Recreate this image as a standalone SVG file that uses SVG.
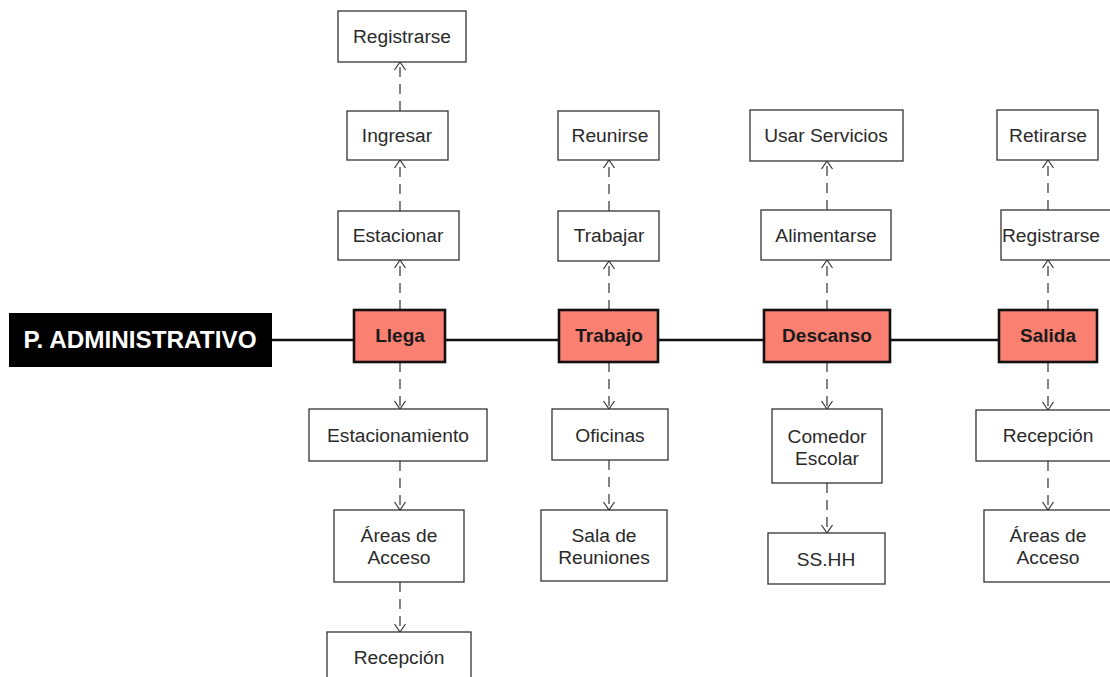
<svg xmlns="http://www.w3.org/2000/svg" width="1110" height="677" viewBox="0 0 1110 677">
  <defs>
    <marker id="open" viewBox="-10 -7 12 14" markerWidth="12" markerHeight="14" refX="0" refY="0" orient="auto" markerUnits="userSpaceOnUse">
      <path d="M -8,-5.5 L 0,0 L -8,5.5" fill="none" stroke="#333" stroke-width="1.2"/>
    </marker>
    <style>
      .box { fill: #fff; stroke: #333; stroke-width: 1.3; }
      .main { fill: #fa8072; stroke: #111; stroke-width: 2.6; }
      .lbl { font-family: "Liberation Sans", Arial, sans-serif; font-size: 19.2px; fill: #2a2a2a; text-anchor: middle; }
      .mlbl { font-family: "Liberation Sans", Arial, sans-serif; font-size: 19px; font-weight: bold; fill: #1a1a1a; text-anchor: middle; }
      .dash { fill: none; stroke: #333; stroke-width: 1.2; stroke-dasharray: 10 7; marker-end: url(#open); }
      .spine { stroke: #111; stroke-width: 2.4; }
    </style>
  </defs>

  <!-- connectors -->
  <g id="connectors">
    <line class="spine" x1="272" y1="340" x2="999" y2="340"/>
    <!-- Llega column -->
    <path class="dash" d="M400,310 V260"/>
    <path class="dash" d="M400,211 V160"/>
    <path class="dash" d="M400,111 V62"/>
    <path class="dash" d="M400,362 V409"/>
    <path class="dash" d="M400,461 V510"/>
    <path class="dash" d="M400,582 V632"/>
    <!-- Trabajo column -->
    <path class="dash" d="M609,310 V261"/>
    <path class="dash" d="M609,211 V160"/>
    <path class="dash" d="M609,362 V409"/>
    <path class="dash" d="M609,460 V510"/>
    <!-- Descanso column -->
    <path class="dash" d="M827,310 V260"/>
    <path class="dash" d="M827,210 V161"/>
    <path class="dash" d="M827,362 V409"/>
    <path class="dash" d="M827,483 V533"/>
    <!-- Salida column -->
    <path class="dash" d="M1048,310 V260"/>
    <path class="dash" d="M1048,210 V160"/>
    <path class="dash" d="M1048,362 V410"/>
    <path class="dash" d="M1048,461 V510"/>
  </g>

  <!-- title -->
  <g id="p-administrativo">
    <rect x="9" y="313" width="263" height="54" fill="#000"/>
    <text x="140" y="348" font-family="'Liberation Sans', Arial, sans-serif" font-size="24.3" font-weight="bold" fill="#fff" text-anchor="middle">P. ADMINISTRATIVO</text>
  </g>

  <!-- main stages -->
  <g id="llega"><rect class="main" x="354" y="310" width="91" height="52"/><text class="mlbl" x="400" y="342">Llega</text></g>
  <g id="trabajo"><rect class="main" x="559" y="310" width="99" height="52"/><text class="mlbl" x="609" y="342">Trabajo</text></g>
  <g id="descanso"><rect class="main" x="764" y="310" width="126" height="52"/><text class="mlbl" x="827" y="342">Descanso</text></g>
  <g id="salida"><rect class="main" x="999" y="310" width="98" height="52"/><text class="mlbl" x="1048" y="342">Salida</text></g>

  <!-- Llega column -->
  <g id="llega-registrarse"><rect class="box" x="338" y="11" width="128" height="51"/><text class="lbl" x="402" y="43">Registrarse</text></g>
  <g id="llega-ingresar"><rect class="box" x="347" y="111" width="101" height="49"/><text class="lbl" x="397" y="142">Ingresar</text></g>
  <g id="llega-estacionar"><rect class="box" x="338" y="211" width="121" height="49"/><text class="lbl" x="398" y="242">Estacionar</text></g>
  <g id="llega-estacionamiento"><rect class="box" x="309" y="409" width="178" height="52"/><text class="lbl" x="398" y="442">Estacionamiento</text></g>
  <g id="llega-areas"><rect class="box" x="334" y="510" width="130" height="72"/><text class="lbl" x="399" y="542">Áreas de</text><text class="lbl" x="399" y="564">Acceso</text></g>
  <g id="llega-recepcion"><rect class="box" x="327" y="632" width="144" height="52"/><text class="lbl" x="399" y="664">Recepción</text></g>

  <!-- Trabajo column -->
  <g id="trabajo-reunirse"><rect class="box" x="558" y="111" width="101" height="49"/><text class="lbl" x="610" y="142">Reunirse</text></g>
  <g id="trabajo-trabajar"><rect class="box" x="558" y="211" width="101" height="50"/><text class="lbl" x="609" y="242">Trabajar</text></g>
  <g id="trabajo-oficinas"><rect class="box" x="552" y="409" width="116" height="51"/><text class="lbl" x="610" y="442">Oficinas</text></g>
  <g id="trabajo-sala"><rect class="box" x="541" y="510" width="126" height="71"/><text class="lbl" x="604" y="542">Sala de</text><text class="lbl" x="604" y="564">Reuniones</text></g>

  <!-- Descanso column -->
  <g id="descanso-usar"><rect class="box" x="750" y="110" width="153" height="51"/><text class="lbl" x="826" y="142">Usar Servicios</text></g>
  <g id="descanso-alimentarse"><rect class="box" x="761" y="210" width="130" height="50"/><text class="lbl" x="826" y="242">Alimentarse</text></g>
  <g id="descanso-comedor"><rect class="box" x="772" y="409" width="110" height="74"/><text class="lbl" x="827" y="443">Comedor</text><text class="lbl" x="827" y="465">Escolar</text></g>
  <g id="descanso-sshh"><rect class="box" x="768" y="533" width="117" height="51"/><text class="lbl" x="826" y="566">SS.HH</text></g>

  <!-- Salida column -->
  <g id="salida-retirarse"><rect class="box" x="997" y="110" width="101" height="50"/><text class="lbl" x="1048" y="142">Retirarse</text></g>
  <g id="salida-registrarse"><rect class="box" x="1001" y="210" width="112" height="50"/><text class="lbl" x="1051" y="242">Registrarse</text></g>
  <g id="salida-recepcion"><rect class="box" x="976" y="410" width="140" height="51"/><text class="lbl" x="1048" y="442">Recepción</text></g>
  <g id="salida-areas"><rect class="box" x="984" y="510" width="130" height="72"/><text class="lbl" x="1048" y="542">Áreas de</text><text class="lbl" x="1048" y="564">Acceso</text></g>
</svg>
